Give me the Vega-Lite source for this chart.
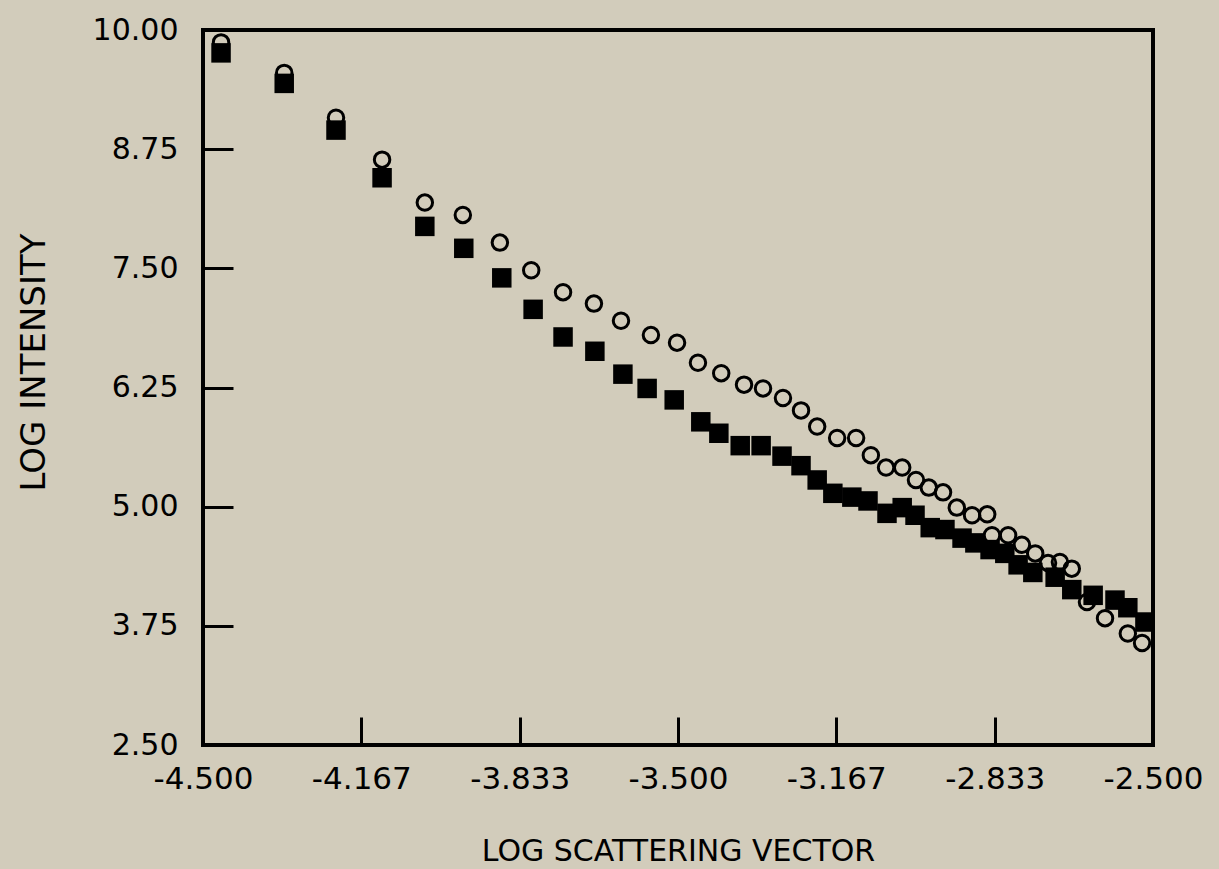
{
  "$schema": "https://vega.github.io/schema/vega-lite/v6.json",
  "width": 950,
  "height": 715,
  "autosize": {"type": "none"},
  "padding": {"left": 203, "top": 30, "right": 66, "bottom": 124},
  "background": "#d2ccbb",
  "config": {
    "view": {"stroke": "black", "strokeWidth": 4},
    "axis": {
      "grid": false,
      "domain": false,
      "tickColor": "black",
      "tickWidth": 3,
      "labelColor": "black",
      "titleColor": "black",
      "labelFont": "DejaVu Sans",
      "titleFont": "DejaVu Sans",
      "titleFontWeight": "normal",
      "labelFlush": false,
      "labelOverlap": false,
      "labelBound": false
    }
  },
  "datasets": {
    "open": [
      {"x": -4.462, "y": 9.87}, {"x": -4.329, "y": 9.55}, {"x": -4.220, "y": 9.08}, {"x": -4.123, "y": 8.64},
      {"x": -4.033, "y": 8.19}, {"x": -3.953, "y": 8.06}, {"x": -3.875, "y": 7.77}, {"x": -3.809, "y": 7.48},
      {"x": -3.742, "y": 7.25}, {"x": -3.677, "y": 7.13}, {"x": -3.620, "y": 6.95}, {"x": -3.557, "y": 6.80},
      {"x": -3.502, "y": 6.72}, {"x": -3.458, "y": 6.51}, {"x": -3.409, "y": 6.40}, {"x": -3.361, "y": 6.28},
      {"x": -3.321, "y": 6.24}, {"x": -3.279, "y": 6.14}, {"x": -3.241, "y": 6.01}, {"x": -3.207, "y": 5.84},
      {"x": -3.165, "y": 5.72}, {"x": -3.125, "y": 5.72}, {"x": -3.094, "y": 5.54}, {"x": -3.062, "y": 5.41},
      {"x": -3.028, "y": 5.41}, {"x": -2.999, "y": 5.28}, {"x": -2.972, "y": 5.20}, {"x": -2.942, "y": 5.15},
      {"x": -2.913, "y": 4.99}, {"x": -2.881, "y": 4.91}, {"x": -2.849, "y": 4.92}, {"x": -2.839, "y": 4.70},
      {"x": -2.805, "y": 4.70}, {"x": -2.776, "y": 4.60}, {"x": -2.748, "y": 4.51}, {"x": -2.721, "y": 4.41},
      {"x": -2.696, "y": 4.42}, {"x": -2.671, "y": 4.35}, {"x": -2.639, "y": 4.00}, {"x": -2.601, "y": 3.83},
      {"x": -2.553, "y": 3.67}, {"x": -2.523, "y": 3.57}
    ],
    "filled": [
      {"x": -4.462, "y": 9.76}, {"x": -4.329, "y": 9.44}, {"x": -4.220, "y": 8.95}, {"x": -4.123, "y": 8.45},
      {"x": -4.033, "y": 7.94}, {"x": -3.951, "y": 7.71}, {"x": -3.871, "y": 7.40}, {"x": -3.805, "y": 7.07},
      {"x": -3.742, "y": 6.78}, {"x": -3.675, "y": 6.63}, {"x": -3.616, "y": 6.39}, {"x": -3.565, "y": 6.24},
      {"x": -3.508, "y": 6.12}, {"x": -3.452, "y": 5.89}, {"x": -3.414, "y": 5.77}, {"x": -3.369, "y": 5.64},
      {"x": -3.325, "y": 5.64}, {"x": -3.281, "y": 5.53}, {"x": -3.241, "y": 5.43}, {"x": -3.207, "y": 5.28},
      {"x": -3.174, "y": 5.14}, {"x": -3.134, "y": 5.10}, {"x": -3.100, "y": 5.06}, {"x": -3.060, "y": 4.93},
      {"x": -3.028, "y": 4.99}, {"x": -3.001, "y": 4.91}, {"x": -2.969, "y": 4.78}, {"x": -2.938, "y": 4.76},
      {"x": -2.902, "y": 4.67}, {"x": -2.875, "y": 4.62}, {"x": -2.843, "y": 4.55}, {"x": -2.812, "y": 4.51},
      {"x": -2.784, "y": 4.39}, {"x": -2.753, "y": 4.31}, {"x": -2.706, "y": 4.26}, {"x": -2.671, "y": 4.13},
      {"x": -2.626, "y": 4.07}, {"x": -2.580, "y": 4.02}, {"x": -2.553, "y": 3.94}, {"x": -2.517, "y": 3.79}
    ]
  },
  "encoding": {
    "x": {
      "field": "x", "type": "quantitative",
      "scale": {"domain": [-4.5, -2.5], "nice": false, "zero": false},
      "axis": {
        "title": "LOG SCATTERING VECTOR",
        "values": [-4.5, -4.16667, -3.83333, -3.5, -3.16667, -2.83333, -2.5],
        "labelExpr": "'-' + format(abs(datum.value), '.3f')",
        "tickSize": -28,
        "labelFontSize": 31,
        "labelPadding": 47,
        "titleFontSize": 30,
        "titlePadding": 42
      }
    },
    "y": {
      "field": "y", "type": "quantitative",
      "scale": {"domain": [2.5, 10], "nice": false, "zero": false},
      "axis": {
        "title": "LOG INTENSITY",
        "values": [2.5, 3.75, 5, 6.25, 7.5, 8.75, 10],
        "format": ".2f",
        "tickSize": -30,
        "labelFontSize": 30,
        "labelPadding": 55,
        "titleFontSize": 34,
        "titleX": -152,
        "titleY": 332
      }
    }
  },
  "layer": [
    {
      "data": {"name": "open"},
      "mark": {"type": "point", "shape": "circle", "filled": false, "stroke": "black", "strokeWidth": 3, "size": 240, "opacity": 1}
    },
    {
      "data": {"name": "filled"},
      "mark": {"type": "square", "filled": true, "color": "black", "size": 380, "opacity": 1}
    }
  ]
}
